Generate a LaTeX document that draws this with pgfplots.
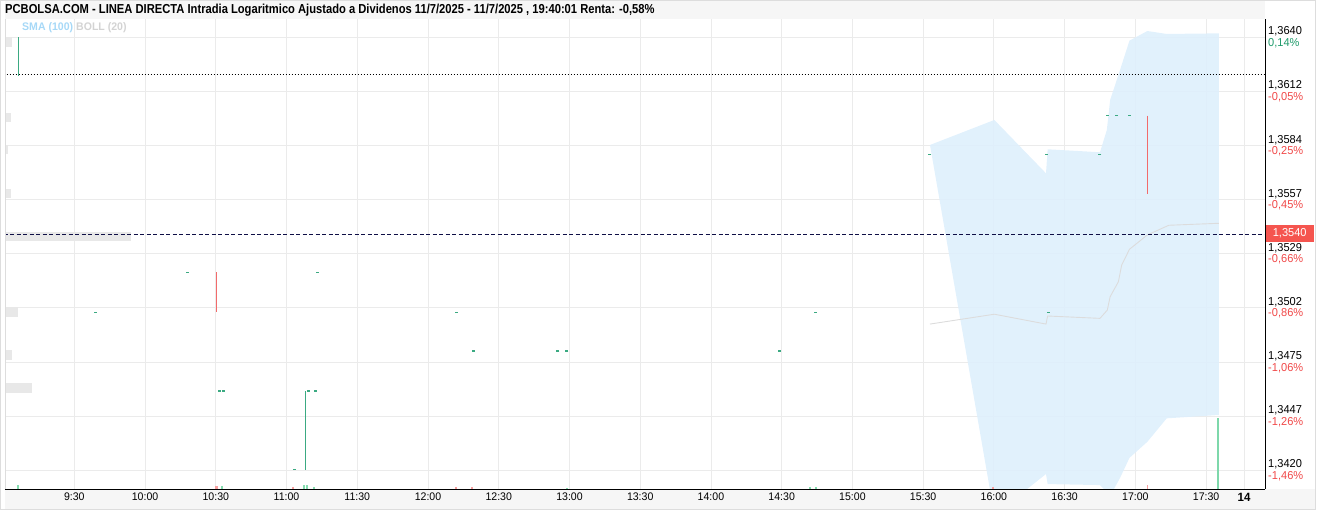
\documentclass[border=0pt]{standalone}
\usepackage{pgfplots}
\pgfplotsset{compat=1.18}
\usepackage{fontspec}
\setmainfont{Liberation Sans}
\newfontfamily\titlefont[FakeStretch=0.86]{Liberation Sans}
\newfontfamily\narrowfont[FakeStretch=0.96]{Liberation Sans}

\definecolor{upc}{HTML}{3BAA82}
\definecolor{dnc}{HTML}{F26B6B}
\definecolor{pctred}{HTML}{F04848}
\definecolor{pctgrn}{HTML}{1E9A6A}
\definecolor{bandfill}{RGB}{222,239,252}
\definecolor{midline}{HTML}{DCDCDC}
\definecolor{gridc}{HTML}{EBEBEB}
\definecolor{vapc}{HTML}{E8E8E8}
\definecolor{lastred}{HTML}{F5554F}
\definecolor{volgrn}{HTML}{86DDB0}
\definecolor{volred}{HTML}{F7A0A0}
\definecolor{smac}{HTML}{A6D8F7}
\definecolor{bollc}{HTML}{D3D3D3}
\definecolor{barbg}{HTML}{F6F6F6}
\definecolor{framec}{HTML}{DDDDDD}
\definecolor{lastline}{RGB}{15,15,70}

\begin{document}
\begin{tikzpicture}
% title bar and time band
\fill[barbg] (0pt,470pt) rectangle (1260pt,488pt);
\fill[barbg] (0pt,-20pt) rectangle (1310pt,0pt);
\node[anchor=west, inner sep=0pt] at (0pt,478.5pt)
  {\titlefont\bfseries\fontsize{13}{13}\selectfont PCBOLSA.COM - LINEA DIRECTA Intradia Logaritmico Ajustado a Dividenos 11/7/2025 - 11/7/2025 , 19:40:01 Renta: -0,58\%};

\begin{axis}[
  at={(0pt,0pt)}, anchor=south west,
  scale only axis, width=1260pt, height=470pt,
  xmin=0.59, xmax=535.0, ymin=1.34105, ymax=1.36493,
  axis line style={draw=none},
  xtick={30,60,90,120,150,180,210,240,270,300,330,360,390,420,450,480,510,526.1},
  xticklabels={9:30,10:00,10:30,11:00,11:30,12:00,12:30,13:00,13:30,14:00,14:30,15:00,15:30,16:00,16:30,17:00,17:30,{\fontsize{12}{12}\selectfont\bfseries 14}},
  ytick={1.3420,1.34475,1.3475,1.35025,1.3530,1.35575,1.3585,1.36125,1.3640},
  yticklabels={
    {1,3420\\\textcolor{pctred}{-1,46\%}},
    {1,3447\\\textcolor{pctred}{-1,26\%}},
    {1,3475\\\textcolor{pctred}{-1,06\%}},
    {1,3502\\\textcolor{pctred}{-0,86\%}},
    {1,3529\\\textcolor{pctred}{-0,66\%}},
    {1,3557\\\textcolor{pctred}{-0,45\%}},
    {1,3584\\\textcolor{pctred}{-0,25\%}},
    {1,3612\\\textcolor{pctred}{-0,05\%}},
    {1,3640\\\textcolor{pctgrn}{0,14\%}}},
  scaled y ticks=false,
  xtick pos=bottom, ytick pos=right, yticklabel pos=right,
  major tick length=0pt,
  grid=major, major grid style={draw=gridc, line width=0.9pt},
  xticklabel style={anchor=north, inner sep=0pt, yshift=-4pt, font=\narrowfont\fontsize{11}{11}\selectfont},
  yticklabel style={anchor=west, inner sep=0pt, xshift=3pt, align=left, font=\narrowfont\fontsize{11.5}{11.5}\selectfont},
  unbounded coords=jump,
]
% volume at price, left edge
\addplot[vapc, line width=9.5pt] coordinates {
  (0,1.36376) (3.56,1.36376) (nan,nan)
  (0,1.35993) (3.0,1.35993) (nan,nan)
  (0,1.35830) (1.87,1.35830) (nan,nan)
  (0,1.35606) (3.0,1.35606) (nan,nan)
  (0,1.35388) (53.9,1.35388) (nan,nan)
  (0,1.35223) (0.9,1.35223) (nan,nan)
  (0,1.35004) (5.98,1.35004) (nan,nan)
  (0,1.34786) (3.44,1.34786) (nan,nan)
  (0,1.34618) (12.05,1.34618) (nan,nan)
  (0,1.34232) (1.0,1.34232)};

% Bollinger band
\addplot[fill=bandfill, fill opacity=0.9, draw=none] coordinates {
  (392.9,1.35853) (420.2,1.35980) (442.1,1.35709) (442.8,1.35831)
  (465.0,1.35816) (467.9,1.35929) (469.3,1.36081) (473.5,1.36234)
  (477.5,1.36383) (485.1,1.36432) (493.3,1.36417) (515.4,1.36420)
  (515.4,1.34481) (493.3,1.34464) (485.1,1.34345) (477.5,1.34263)
  (473.5,1.34161) (469.3,1.34070) (467.9,1.34090) (465.0,1.34125)
  (442.8,1.34130) (442.1,1.34181) (420.2,1.33973)};
\addplot[midline, line width=0.9pt] coordinates {
  (392.9,1.34943) (420.2,1.34993) (442.1,1.34943) (442.8,1.34984)
  (465.0,1.34972) (468.1,1.35014) (469.3,1.35082) (472.8,1.35158)
  (474.2,1.35243) (477.5,1.35323) (485.1,1.35396) (494.2,1.35445)
  (515.4,1.35455)};

% reference lines
\addplot[black, line width=0.8pt, dash pattern=on 1.5pt off 1.5pt] coordinates {(0,1.3621) (540,1.3621)};
\addplot[lastline, line width=0.8pt, dash pattern=on 4pt off 2.5pt] coordinates {(0,1.3540) (540,1.3540)};

% volume at bottom
\addplot[volgrn, line width=2pt] coordinates {
  (6.1,1.34105) (6.1,1.34125) (nan,nan)
  (92.8,1.34105) (92.8,1.34120) (nan,nan)
  (127.4,1.34105) (127.4,1.34125) (nan,nan)
  (128.6,1.34105) (128.6,1.34125) (nan,nan)
  (131.6,1.34105) (131.6,1.34115) (nan,nan)
  (239.0,1.34105) (239.0,1.34112) (nan,nan)
  (342.0,1.34105) (342.0,1.34115) (nan,nan)
  (344.5,1.34105) (344.5,1.34115)};
\addplot[volred, line width=3pt] coordinates {
  (90.4,1.34105) (90.4,1.34120)};
\addplot[volred, line width=1.5pt] coordinates {
  (122.7,1.34105) (122.7,1.34115) (nan,nan)
  (191.9,1.34105) (191.9,1.34115) (nan,nan)
  (198.7,1.34105) (198.7,1.34115) (nan,nan)
  (419.6,1.34105) (419.6,1.34115) (nan,nan)
  (485.1,1.34105) (485.1,1.34125)};

% candles
\addplot[upc, line width=1.4pt] coordinates {(6.2,1.3640) (6.2,1.36203)};
\addplot[upc, line width=1.4pt] coordinates {(128.0,1.34202) (128.0,1.34603)};
\addplot[dnc, line width=1.4pt] coordinates {(90.4,1.35206) (90.4,1.35003)};
\addplot[dnc, line width=1.4pt] coordinates {(485.1,1.36002) (485.1,1.35604)};
\addplot[volgrn!90!upc, line width=2pt] coordinates {(515.1,1.34464) (515.1,1.34050)};
\addplot[only marks, mark=-, mark size=1.5pt, upc, mark options={line width=1.1pt}] coordinates {
  (38.9,1.35003) (77.9,1.35206) (91.4,1.34603) (93.1,1.34603)
  (123.3,1.34202) (129.1,1.34603) (132.1,1.34603) (133.1,1.35206)
  (191.9,1.35004) (199.1,1.34806) (235.1,1.34806) (238.9,1.34806)
  (328.9,1.34806) (344.2,1.35004) (392.9,1.35806) (442.4,1.35806)
  (443.1,1.35003) (465.0,1.35806) (468.0,1.36002) (472.1,1.36002)
  (477.5,1.36002)};
\end{axis}

% axis lines
\draw[black, line width=1pt] (0pt,0pt) -- (1260pt,0pt);
\draw[black, line width=1pt] (1260pt,0pt) -- (1260pt,470pt);
\draw[framec, line width=0.8pt] (0pt,0pt) -- (0pt,470pt);

% legend of indicators
\node[anchor=west, inner sep=0pt, font=\narrowfont\bfseries\fontsize{11}{11}\selectfont] at (17pt,461pt)
  {\textcolor{smac}{SMA (100)} \textcolor{bollc}{BOLL (20)}};

% last price box
\node[fill=lastred, text=white, anchor=west, inner sep=0pt, minimum height=17pt, minimum width=48pt,
  font=\narrowfont\fontsize{11.5}{11.5}\selectfont] at (1260.5pt,255.5pt) {1,3540};

% frame
\draw[framec, line width=0.8pt] (-4.5pt,-20.5pt) rectangle (1310pt,488.5pt);

\pgfresetboundingbox
\path[use as bounding box] (-5pt,-23pt) rectangle (1315pt,489pt);
\end{tikzpicture}
\end{document}
